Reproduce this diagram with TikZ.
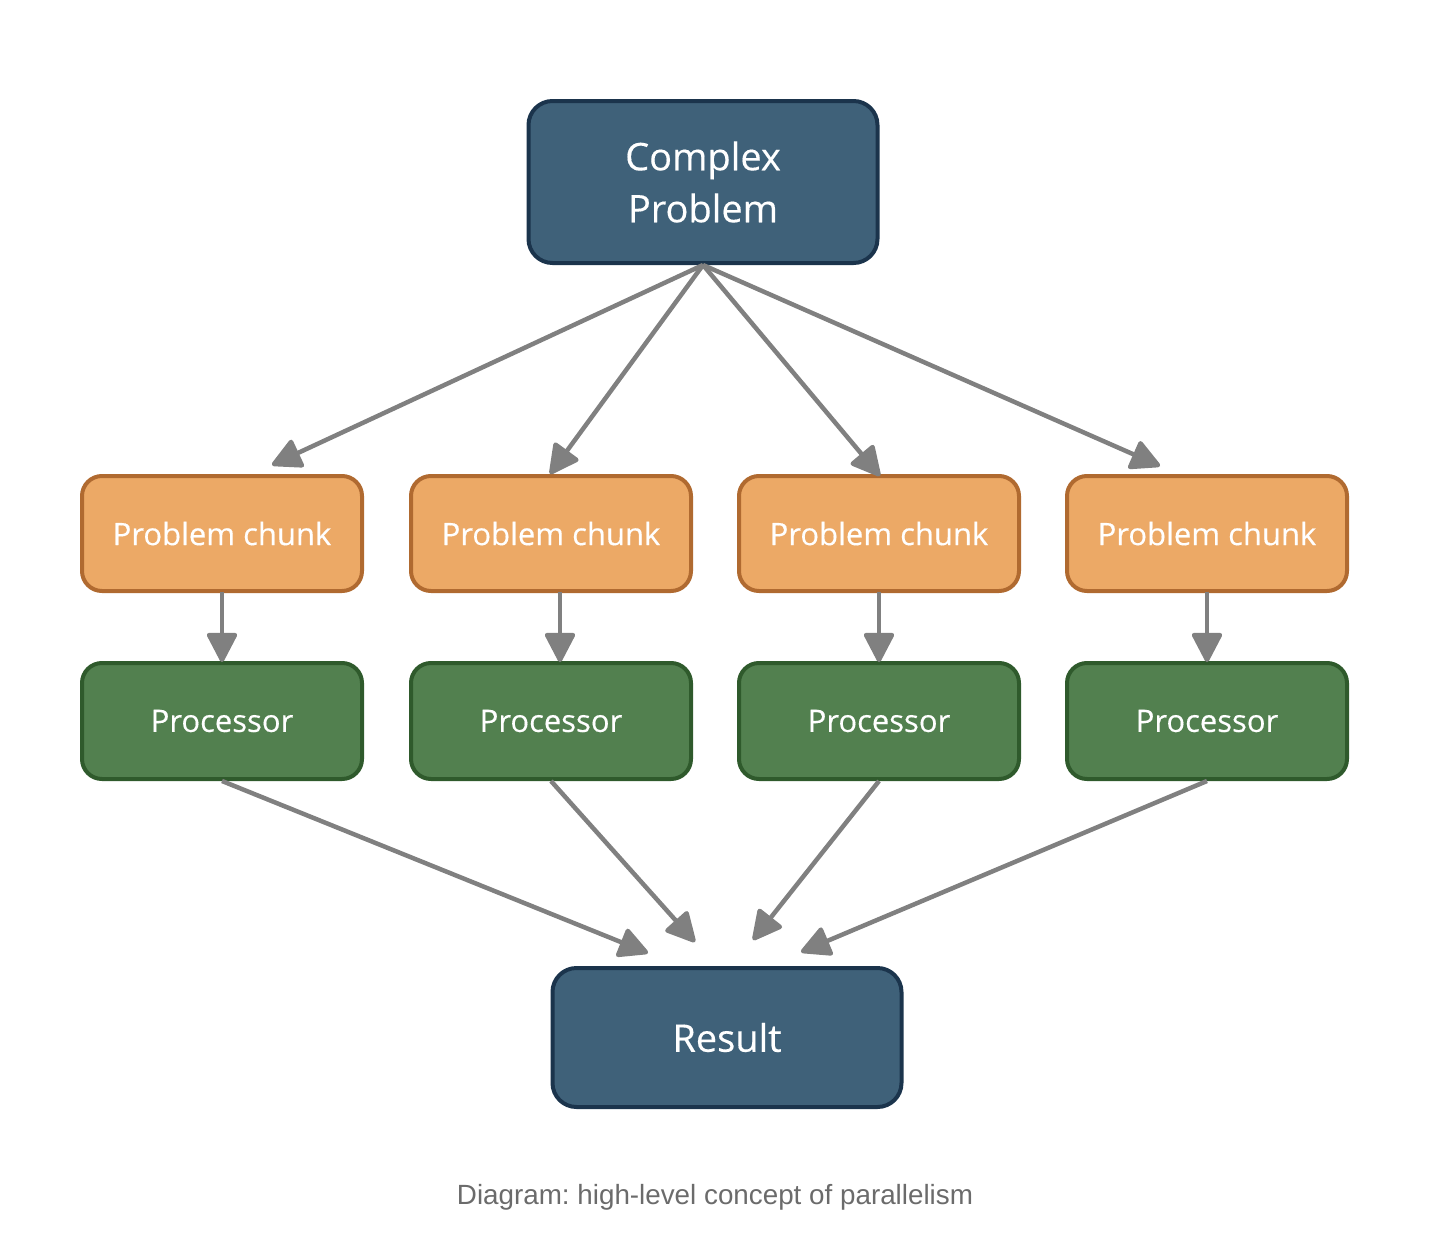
\documentclass[tikz,border=0pt]{standalone}
\usepackage{fontspec}
\setmainfont{Open Sans}[UprightFeatures={FakeBold=0.35}]
\newfontfamily\capfont{Liberation Sans}
\usetikzlibrary{arrows.meta}
\definecolor{bluefill}{HTML}{3F6179}
\definecolor{blueedge}{HTML}{1B344C}
\definecolor{orfill}{HTML}{ECA966}
\definecolor{oredge}{HTML}{B06A30}
\definecolor{grfill}{HTML}{52804F}
\definecolor{gredge}{HTML}{2F5A2C}
\definecolor{arrgray}{HTML}{808080}
\definecolor{capgray}{HTML}{6B6B6B}
\tikzset{
  bigbox/.style={draw=blueedge, fill=bluefill, line width=4pt, rounded corners=24pt,
    minimum width=349pt, text=white, align=center,
    font=\fontsize{38}{52}\selectfont},
  chunkbox/.style={draw=oredge, fill=orfill, line width=4pt, rounded corners=20pt,
    minimum width=280pt, minimum height=115pt, text=white,
    font=\fontsize{31}{38}\selectfont},
  procbox/.style={draw=gredge, fill=grfill, line width=4pt, rounded corners=20pt,
    minimum width=280pt, minimum height=116pt, text=white,
    font=\fontsize{31}{38}\selectfont},
  conn/.style={draw=arrgray, line width=4.5pt,
    -{Triangle[length=32pt,width=32pt,round]}},
}
\begin{document}
\frenchspacing
\begin{tikzpicture}[x=1pt,y=-1pt]
\useasboundingbox (0,0) rectangle (1436,1242);
\node[bigbox, minimum height=162pt] (top) at (703,182) {Complex\\Problem};
\node[bigbox, minimum height=139pt] (res) at (727,1037.5) {Result};
\foreach \i/\x in {1/222,2/551,3/879,4/1207}{
  \node[chunkbox] (c\i) at (\x,533.5) {Problem chunk};
  \node[procbox] (p\i) at (\x,721) {Processor};
}
% free ends
\coordinate (t1) at (272,465);
\coordinate (t2) at (550,474);
\coordinate (t3) at (880,476);
\coordinate (t4) at (1160,466);
\coordinate (r1) at (648,953);
\coordinate (r2) at (695,942);
\coordinate (r3) at (753,940);
\coordinate (r4) at (801,952);
\coordinate (cs1) at (222,592);
\coordinate (cs2) at (560,592);
\coordinate (cs3) at (879,592);
\coordinate (cs4) at (1207,592);
\coordinate (ce1) at (222,662);
\coordinate (ce2) at (560,662);
\coordinate (ce3) at (879,662);
\coordinate (ce4) at (1207,662);
\foreach \i in {1,2,3,4}{
  \draw[conn] (top.south) -- (t\i);
  \draw[conn] (cs\i) -- (ce\i);
  \draw[conn] (p\i.south) -- (r\i);
}
\node[text=capgray, font=\capfont\fontsize{27.8}{32}\selectfont] (cap) at (715,1197) {Diagram: high-level concept of parallelism};
\end{tikzpicture}
\end{document}
